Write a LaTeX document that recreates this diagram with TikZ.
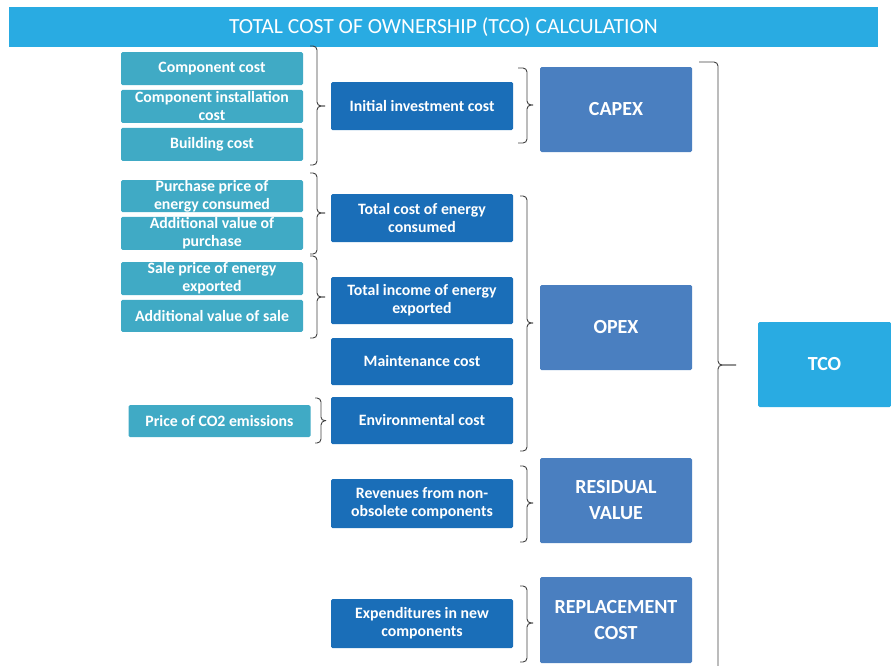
\documentclass[tikz,border=0pt]{standalone}
\usepackage{fontspec}
\setmainfont{Carlito}
\usetikzlibrary{positioning}
\definecolor{barblue}{RGB}{41,171,226}
\definecolor{leafteal}{RGB}{64,170,197}
\definecolor{midblue}{RGB}{26,110,184}
\definecolor{sumblue}{RGB}{74,127,192}
\tikzset{
  leaf/.style={fill=leafteal,text=white,minimum width=182pt,minimum height=33pt,
    align=center,inner sep=0pt,rounded corners=1.5pt,
    font=\bfseries\fontsize{15.8}{18}\selectfont},
  cost/.style={leaf,fill=midblue,minimum height=48pt},
  part/.style={fill=sumblue,text=white,minimum width=152pt,minimum height=85pt,
    align=center,inner sep=0pt,rounded corners=1.5pt,
    font=\bfseries\fontsize{20}{26}\selectfont},
  brk/.style={draw=black!75,line width=0.9pt,rounded corners=4pt}
}
\begin{document}
\begin{tikzpicture}[x=1pt,y=-1pt]
\useasboundingbox (0,0) rectangle (891,665);
\node[fill=barblue,text=white,minimum width=869pt,minimum height=40pt,inner sep=0pt,
  font=\fontsize{21.6}{26}\selectfont] (title) at (443.5,27)
  {TOTAL COST OF OWNERSHIP (TCO) CALCULATION};

% inputs
\node[leaf] (comp) at (212,68.5) {Component cost};
\node[leaf] (inst) [below=4.5pt of comp] {Component installation\\cost};
\node[leaf] (bld) [below=4.5pt of inst] {Building cost};
\node[leaf,minimum height=32pt] (purch) at (212,196) {Purchase price of\\energy consumed};
\node[leaf] (addp) [below=4.5pt of purch] {Additional value of\\purchase};
\node[leaf] (sale) at (212,278.5) {Sale price of energy\\exported};
\node[leaf,minimum height=32pt] (adds) [below=4.5pt of sale] {Additional value of sale};
\node[leaf,minimum height=32pt] (co2) at (219.5,421) {Price of CO2 emissions};

% cost items
\node[cost] (init) at (422,106) {Initial investment cost};
\node[cost] (totc) at (422,218) {Total cost of energy\\consumed};
\node[cost,minimum height=47pt] (toti) at (422,300.5) {Total income of energy\\exported};
\node[cost,minimum height=47pt] (maint) at (422,361.5) {Maintenance cost};
\node[cost,minimum height=47pt] (env) at (422,420.5) {Environmental cost};
\node[cost,minimum height=49pt] (rev) at (422,503.5) {Revenues from non-\\obsolete components};
\node[cost,minimum height=49pt] (expd) at (422,623.5) {Expenditures in new\\components};

% groups
\node[part] (capex) at (616,109.5) {CAPEX};
\node[part] (opex) at (616,327.5) {OPEX};
\node[part] (resid) at (616,500.5) {RESIDUAL\\VALUE};
\node[part,minimum height=86pt] (repl) at (616,620) {REPLACEMENT\\COST};
\node[part,fill=barblue,minimum width=133pt] (tco) at (824.5,364.5) {TCO};

% braces
\draw[brk] (310,46) -- (317,46) -- (317,106) -- (init.west -| 325,0);
\draw[brk] (310,165) -- (317,165) -- (317,106) -- (init.west -| 325,0);
\draw[brk] (310,173) -- (317,173) -- (317,213) -- (325,213);
\draw[brk] (310,254) -- (317,254) -- (317,213) -- (325,213);
\draw[brk] (310,256) -- (317,256) -- (317,297) -- (325,297);
\draw[brk] (310,338) -- (317,338) -- (317,297) -- (325,297);
\draw[brk] (315,398) -- (321,398) -- (321,421) -- (env.west -| 326,0);
\draw[brk] (315,443) -- (321,443) -- (321,421) -- (env.west -| 326,0);

\draw[brk] (518,68) -- (527,68) -- (527,105) -- (533,105);
\draw[brk] (518,143) -- (527,143) -- (527,105) -- (533,105);
\draw[brk] (520,196) -- (527,196) -- (527,323) -- (533,323);
\draw[brk] (520,451) -- (527,451) -- (527,323) -- (533,323);
\draw[brk] (520,466) -- (527,466) -- (527,503) -- (533,503);
\draw[brk] (520,542) -- (527,542) -- (527,503) -- (533,503);
\draw[brk] (520,586) -- (527,586) -- (527,623) -- (533,623);
\draw[brk] (520,662) -- (527,662) -- (527,623) -- (533,623);

\draw[brk] (699,62) -- (718,62) -- (718,365) -- (736,365);
\draw[brk] (699,700) -- (718,700) -- (718,365) -- (736,365);
\end{tikzpicture}
\end{document}
